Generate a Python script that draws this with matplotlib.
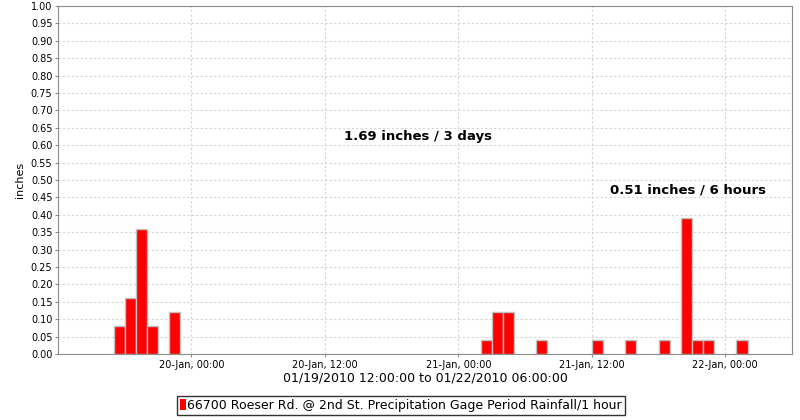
#!/usr/bin/env python3
"""
Hourly rainfall bar chart, 66700 Roeser Rd. gage
"""
from datetime import datetime, timedelta

import matplotlib
matplotlib.use('Agg')
import matplotlib.pyplot as plt
import matplotlib.dates as mdates

# hourly rainfall (inches), bar starts at the given hour
times = ['2010-01-19 17:00', '2010-01-19 18:00', '2010-01-19 19:00',
         '2010-01-19 20:00', '2010-01-19 22:00',
         '2010-01-21 02:00', '2010-01-21 03:00', '2010-01-21 04:00',
         '2010-01-21 07:00', '2010-01-21 12:00', '2010-01-21 15:00',
         '2010-01-21 18:00', '2010-01-21 20:00', '2010-01-21 21:00',
         '2010-01-21 22:00', '2010-01-22 01:00']
rain = [0.08, 0.16, 0.36, 0.08, 0.12,
        0.04, 0.12, 0.12, 0.04, 0.04, 0.04,
        0.04, 0.39, 0.04, 0.04, 0.04]

tick_times = ['2010-01-20 00:00', '2010-01-20 12:00', '2010-01-21 00:00',
              '2010-01-21 12:00', '2010-01-22 00:00']
start, end = '2010-01-19 12:00', '2010-01-22 06:00'

series_name = '66700 Roeser Rd. @ 2nd St. Precipitation Gage Period Rainfall/1 hour'
period_label = '01/19/2010 12:00:00 to 01/22/2010 06:00:00'
note_total = '1.69 inches / 3 days'
note_peak = '0.51 inches / 6 hours'

fmt = '%Y-%m-%d %H:%M'
t = [datetime.strptime(s, fmt) for s in times]
ticks = [datetime.strptime(s, fmt) for s in tick_times]

fig = plt.figure(figsize=(8, 4.2), dpi=100)
ax = fig.add_axes([0.0725, 0.157, 0.9175, 0.829])

ax.bar(t, rain, width=1 / 24, align='edge', color='#ff0000',
       edgecolor='#c0c0c0', linewidth=1.0, zorder=3)

ax.set_xlim(datetime.strptime(start, fmt), datetime.strptime(end, fmt))
ax.set_ylim(0, 1.0)
ax.set_yticks([i * 0.05 for i in range(21)])
ax.yaxis.set_major_formatter(plt.FormatStrFormatter('%.2f'))
ax.set_xticks(ticks)
ax.xaxis.set_major_formatter(mdates.DateFormatter('%d-%b, %H:%M'))

ax.grid(True, color='#d4d4d4', linestyle=(0, (2, 2)), linewidth=0.8, zorder=0)
for sp in ax.spines.values():
    sp.set_color('#8c8c8c')
ax.tick_params(axis='both', labelsize=7, length=2, color='#8c8c8c', pad=2)

ax.set_ylabel('inches', fontsize=8, labelpad=4)
ax.set_xlabel(period_label, fontsize=9, labelpad=1)

ax.text(0.49, 0.624, note_total, transform=ax.transAxes, ha='center',
        va='center', fontsize=9.5, fontweight='bold')
ax.text(0.858, 0.471, note_peak, transform=ax.transAxes, ha='center',
        va='center', fontsize=9.5, fontweight='bold')

handle = matplotlib.patches.Patch(facecolor='#ff0000', edgecolor='none')
leg = fig.legend([handle], [series_name], loc='center',
                 bbox_to_anchor=(0.501, 0.0345), fontsize=9, frameon=True,
                 fancybox=False, handlelength=0.45, handleheight=1.0,
                 handletextpad=0.1, borderpad=0.25, borderaxespad=0)
leg.get_frame().set_edgecolor('black')
leg.get_frame().set_linewidth(1.0)

fig.savefig('out.png', dpi=100)
plt.close(fig)
